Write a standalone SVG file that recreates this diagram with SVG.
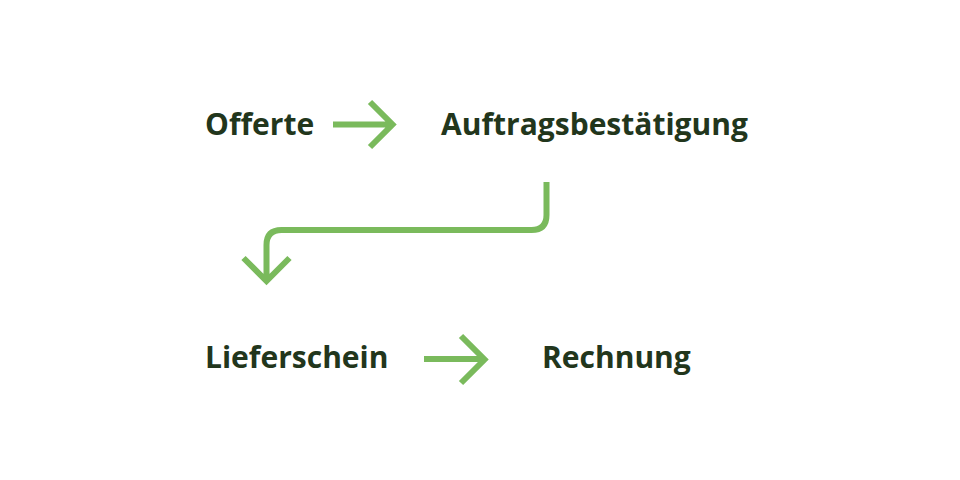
<svg xmlns="http://www.w3.org/2000/svg" width="960" height="480" viewBox="0 0 960 480">
<style>
.t{font-family:"Open Sans","Noto Sans",sans-serif;font-weight:700;font-size:30px;fill:#22361c}
.c{fill:none;stroke:#7aba5c;stroke-width:6}
</style>
<rect width="960" height="480" fill="#ffffff"/>
<g id="offerte"><text class="t" x="205" y="135">Offerte</text></g>
<g id="auftragsbestaetigung"><text class="t" x="441" y="135">Auftragsbestätigung</text></g>
<g id="lieferschein"><text class="t" x="205" y="368">Lieferschein</text></g>
<g id="rechnung"><text class="t" x="542" y="368">Rechnung</text></g>
<g id="connectors">
<path class="c" d="M333 124.5H391M370 102L392.5 124.5L370 147"/>
<path class="c" d="M546.5 182V215Q546.5 230 531.5 230H281.5Q266.5 230 266.5 245V280M243.5 258L266.5 281L289.5 258"/>
<path class="c" d="M424 359H484M461 336L484.5 359.5L461 383"/>
</g>
</svg>
